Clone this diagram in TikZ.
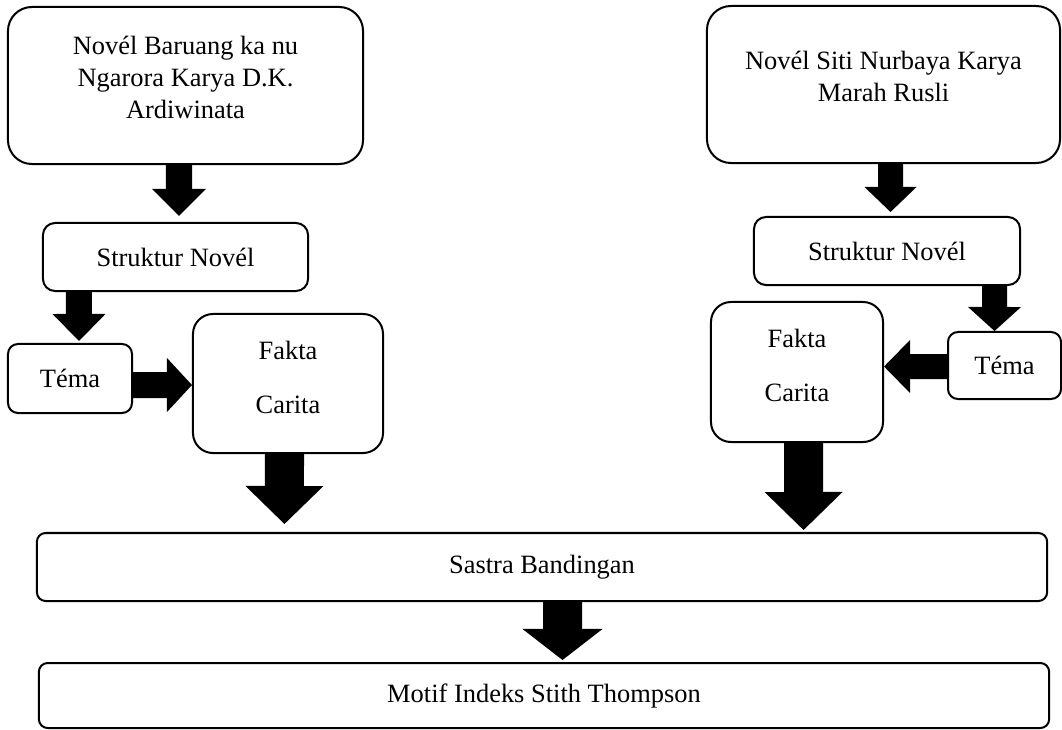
\documentclass[tikz,border=0pt]{standalone}
\usepackage{fontspec}
\setmainfont{Liberation Serif}
\usepackage{tikz}
\usetikzlibrary{positioning, arrows.meta}
\newcommand{\BoxFont}{\fontsize{18.8pt}{22.6pt}\selectfont}
\tikzset{
  box/.style={draw, line width=0.05cm, rounded corners=#1, align=center,
    inner sep=0pt, font=\BoxFont},
  box/.default=0.3cm,
  txt/.style={align=center, inner sep=0pt, font=\BoxFont},
  fat/.style n args={3}{line width=#1, -{Triangle[width=#2, length=#3, line width=0pt]}}
}

\begin{document}
\begin{tikzpicture}[x=0.025cm, y=-0.025cm]
\useasboundingbox (0,0) rectangle (1062,729);
% novels
\node[box=0.6cm, minimum width=8.875cm, minimum height=3.925cm] (novA) at (185.5,85.5) {};
\node[txt, yshift=0.2cm] (novAtxt) at (novA) {Novél Baruang ka nu\\Ngarora Karya D.K.\\Ardiwinata};
\node[box=0.6cm, minimum width=8.825cm, minimum height=3.925cm] (novB) at (883.5,84.5) {};
\node[txt, yshift=0.21cm] (novBtxt) at (novB) {Novél Siti Nurbaya Karya\\Marah Rusli};
% structure
\node[box, minimum width=6.625cm, minimum height=1.7cm] (strA) at (175.5,257) {Struktur Novél};
\node[box, minimum width=6.65cm, minimum height=1.7cm] (strB) at (887,251) {Struktur Novél};
% theme and facts
\node[box=0.25cm, minimum width=3.1cm, minimum height=1.725cm] (temA) at (70,378.5) {Téma};
\node[box=0.5cm, minimum width=4.75cm, minimum height=3.475cm] (fakA) at (288,383.5) {};
\node[txt, yshift=0.15cm] (fakAtxt) at (fakA) {Fakta\\[16pt]Carita};
\node[box=0.5cm, minimum width=4.3cm, minimum height=3.5cm] (fakB) at (797,372) {};
\node[txt, yshift=0.16cm] (fakBtxt) at (fakB) {Fakta\\[16pt]Carita};
\node[box=0.25cm, minimum width=2.825cm, minimum height=1.675cm] (temB) at (1004.5,365.5) {Téma};
% bottom boxes
\node[box=0.22cm, minimum width=25.25cm, minimum height=1.7cm] (sasI) at (542,567) {Sastra Bandingan};
\node[box=0.22cm, minimum width=25.25cm, minimum height=1.625cm] (motJ) at (544,695.5) {Motif Indeks Stith Thompson};

% block arrows
\draw[fat={0.65cm}{1.35cm}{0.675cm}, shorten >=0.15cm] ([xshift=-0.1625cm]novA.south) -- ([xshift=0.0875cm]strA.north);
\draw[fat={0.625cm}{1.3cm}{0.625cm}, shorten >=0.1cm] ([xshift=0.175cm]novB.south) -- ([xshift=0.0875cm]strB.north);
\draw[fat={0.65cm}{1.325cm}{0.675cm}, shorten >=0.05cm] ([xshift=-2.4125cm]strA.south) -- ([xshift=0.225cm]temA.north);
\draw[fat={0.625cm}{1.325cm}{0.6cm}] ([xshift=2.6875cm]strB.south) -- ([xshift=-0.25cm]temB.north);
\draw[fat={0.65cm}{1.35cm}{0.625cm}] ([yshift=-0.1625cm]temA.east) -- ([yshift=-0.0375cm]fakA.west);
\draw[fat={0.625cm}{1.325cm}{0.65cm}] ([yshift=-0.025cm]temB.west) -- ([yshift=0.1375cm]fakB.east);
\draw[fat={0.975cm}{1.95cm}{0.95cm}, shorten >=0.2cm] ([xshift=-0.0875cm]fakA.south) -- ([xshift=-6.4375cm]sasI.north);
\draw[fat={0.975cm}{1.95cm}{0.95cm}, shorten >=0.05cm] ([xshift=0.1625cm]fakB.south) -- ([xshift=6.5375cm]sasI.north);
\draw[fat={0.975cm}{2cm}{0.775cm}, shorten >=0.05cm] ([xshift=0.5125cm]sasI.south) -- ([xshift=0.4625cm]motJ.north);
\end{tikzpicture}
\end{document}
